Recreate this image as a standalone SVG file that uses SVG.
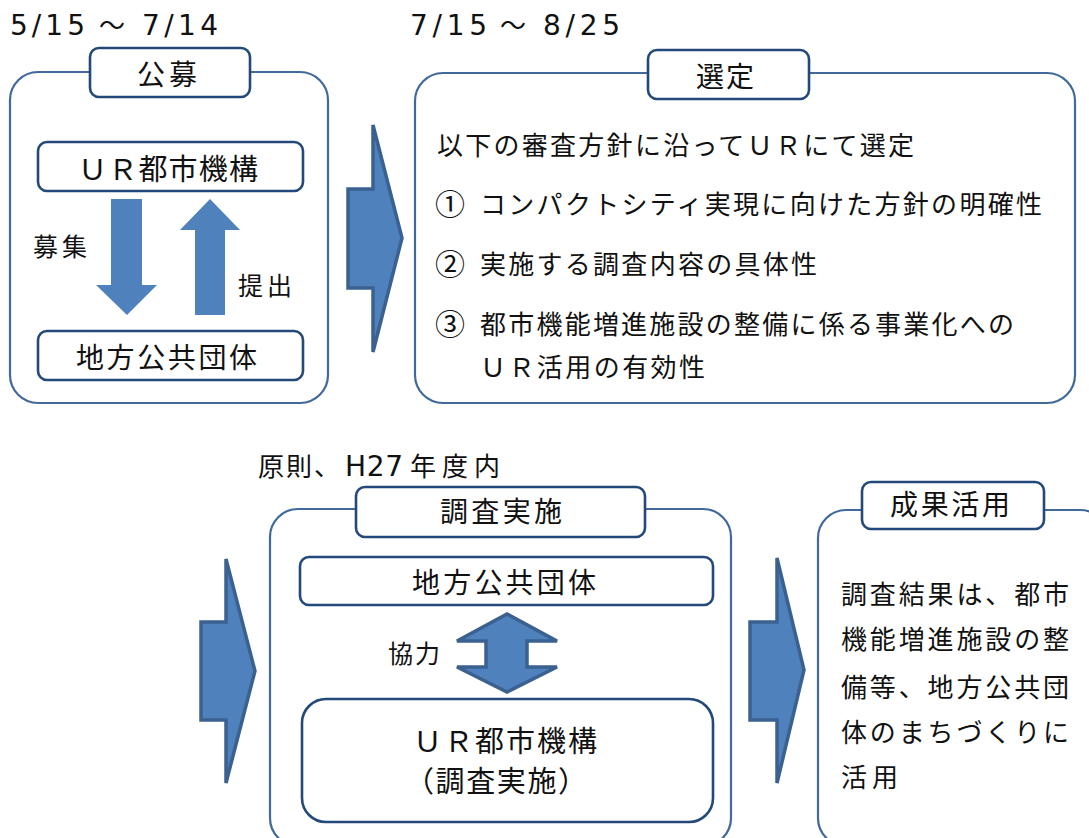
<svg xmlns="http://www.w3.org/2000/svg" width="1089" height="838" viewBox="0 0 1089 838">
<style>
text{font-family:"Noto Sans CJK JP","Noto Sans",sans-serif;fill:#111;}
.num{font-family:"DejaVu Sans","Noto Sans CJK JP",sans-serif;font-size:28px;}
.panel{fill:#fff;stroke:#41699c;stroke-width:2.2;}
.box{fill:#fff;stroke:#22497a;stroke-width:2.6;}
.tbox{fill:#fff;stroke:#22497a;stroke-width:2.6;}
.arr{fill:#4f81bd;}
.barr{fill:#4f81bd;stroke:#3a6190;stroke-width:3.5;stroke-linejoin:miter;}
.t28{font-size:28px;}
.t26{font-size:26px;}
.t25{font-size:25px;}
</style>
<rect width="1089" height="838" fill="#fff"/>

<g id="dates">
<text y="35"><tspan class="num" x="10" textLength="75" lengthAdjust="spacing">5/15</tspan><tspan x="99" font-size="26">～</tspan><tspan class="num" x="142" textLength="76" lengthAdjust="spacing">7/14</tspan></text>
<text y="35"><tspan class="num" x="410" textLength="77" lengthAdjust="spacing">7/15</tspan><tspan x="500" font-size="26">～</tspan><tspan class="num" x="543" textLength="77" lengthAdjust="spacing">8/25</tspan></text>
<text y="476"><tspan x="258" font-size="26" textLength="82" lengthAdjust="spacing">原則、</tspan><tspan class="num" x="345" font-size="26" textLength="58" lengthAdjust="spacing">H27</tspan><tspan x="410" font-size="26" textLength="90" lengthAdjust="spacing">年度内</tspan></text>
</g>

<g id="panel-koubo">
<rect class="panel" x="10" y="72" width="318" height="331" rx="28"/>
<rect class="tbox" x="90" y="48" width="160" height="49" rx="9"/>
<text class="t28" x="137" y="85" textLength="60" lengthAdjust="spacing">公募</text>
</g>
<g id="node-ur1">
<rect class="box" x="38" y="142" width="265" height="49" rx="9"/>
<text x="78" y="180" font-size="29" textLength="180" lengthAdjust="spacing">ＵＲ都市機構</text>
</g>
<g id="node-chiho1">
<rect class="box" x="38" y="331" width="265" height="49" rx="9"/>
<text class="t28" x="76" y="368" textLength="181" lengthAdjust="spacing">地方公共団体</text>
</g>
<g id="label-boshu"><text class="t25" x="33" y="256" textLength="54" lengthAdjust="spacing">募集</text></g>
<g id="label-teishutsu"><text class="t25" x="238" y="295" textLength="54" lengthAdjust="spacing">提出</text></g>

<g id="panel-sentei">
<rect class="panel" x="415" y="73" width="660" height="330" rx="28"/>
<rect class="tbox" x="648" y="50" width="161" height="49" rx="9"/>
<text class="t28" x="696" y="87" textLength="58" lengthAdjust="spacing">選定</text>
<text class="t26" x="437" y="155" textLength="477" lengthAdjust="spacing">以下の審査方針に沿ってＵＲにて選定</text>
<text x="435" y="215" font-size="30">①</text>
<text class="t26" x="480" y="214" textLength="562" lengthAdjust="spacing">コンパクトシティ実現に向けた方針の明確性</text>
<text x="435" y="275" font-size="30">②</text>
<text class="t26" x="480" y="274" textLength="337" lengthAdjust="spacing">実施する調査内容の具体性</text>
<text x="435" y="335" font-size="30">③</text>
<text class="t26" x="480" y="334" textLength="534" lengthAdjust="spacing">都市機能増進施設の整備に係る事業化への</text>
<text class="t26" x="480" y="377" textLength="225" lengthAdjust="spacing">ＵＲ活用の有効性</text>
</g>

<g id="panel-chousa">
<rect class="panel" x="270" y="509" width="461" height="337" rx="28"/>
<rect class="tbox" x="356" y="487" width="289" height="50" rx="9"/>
<text class="t28" x="440" y="522" textLength="122" lengthAdjust="spacing">調査実施</text>
</g>
<g id="node-chiho2">
<rect class="box" x="300" y="557" width="413" height="48" rx="9"/>
<text class="t28" x="412" y="593" textLength="184" lengthAdjust="spacing">地方公共団体</text>
</g>
<g id="node-ur2">
<rect class="box" x="302" y="699" width="411" height="123" rx="24"/>
<text x="413" y="752" font-size="29" textLength="184" lengthAdjust="spacing">ＵＲ都市機構</text>
<text x="405" y="792" font-size="29" textLength="182" lengthAdjust="spacing">（調査実施）</text>
</g>
<g id="label-kyouryoku"><text class="t25" x="388" y="663" textLength="52" lengthAdjust="spacing">協力</text></g>

<g id="panel-seika">
<rect class="panel" x="818" y="510" width="290" height="336" rx="28"/>
<rect class="tbox" x="862" y="482" width="182" height="47" rx="9"/>
<text class="t28" x="890" y="515" textLength="120" lengthAdjust="spacing">成果活用</text>
<text class="t26" x="841" y="604" textLength="228" lengthAdjust="spacing">調査結果は、都市</text>
<text class="t26" x="841" y="649" textLength="228" lengthAdjust="spacing">機能増進施設の整</text>
<text class="t26" x="841" y="697" textLength="228" lengthAdjust="spacing">備等、地方公共団</text>
<text class="t26" x="841" y="742" textLength="228" lengthAdjust="spacing">体のまちづくりに</text>
<text class="t26" x="841" y="787" textLength="57" lengthAdjust="spacing">活用</text>
</g>

<g id="connectors">
<polygon class="arr" points="111,199 142,199 142,285 157,285 127,315 96,285 111,285"/>
<polygon class="arr" points="210,199 240,230 225,230 225,315 195,315 195,230 180,230"/>
<polygon class="barr" points="348,189 373,189 373,125 402,238 373,352 373,288 348,288"/>
<polygon class="barr" points="201,622 226,622 226,559 255,671 226,783 226,720 201,720"/>
<polygon class="barr" points="750,622 777,622 777,558 804,670 777,783 777,720 750,720"/>
<polygon class="barr" points="507,614 557,641 527,641 527,667 557,667 507,692 457,667 486,667 486,641 457,641"/>
</g>
</svg>
